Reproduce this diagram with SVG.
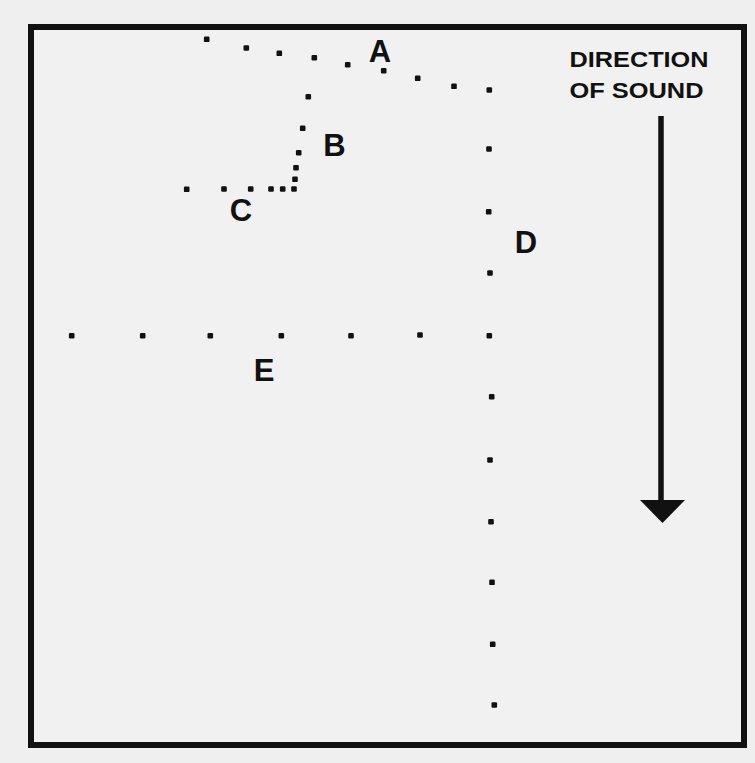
<svg xmlns="http://www.w3.org/2000/svg" width="755" height="763" viewBox="0 0 755 763">
<style>
.lbl{font-family:"Liberation Sans",Arial,sans-serif;font-weight:bold;font-size:31px;fill:#111;text-anchor:middle}
.cap{font-family:"Liberation Sans",Arial,sans-serif;font-weight:bold;font-size:22px;fill:#111}
.dot{fill:#111}
</style>
<defs>
<rect id="d" x="-2.8" y="-2.8" width="5.6" height="5.6" rx="1.2" class="dot"/>
</defs>
<rect width="755" height="763" fill="#efefef"/>
<rect x="31" y="27" width="713" height="718" fill="#f1f1f1" stroke="#111" stroke-width="6"/>
<g id="curveA">
<use href="#d" x="206.7" y="39.3"/><use href="#d" x="246.3" y="48"/><use href="#d" x="279.3" y="53.3"/><use href="#d" x="314.3" y="57.7"/><use href="#d" x="347.7" y="64.7"/><use href="#d" x="383.7" y="70.7"/><use href="#d" x="417.7" y="78.3"/><use href="#d" x="454" y="86.3"/><use href="#d" x="489.3" y="90"/>
<text class="lbl" x="380" y="62">A</text>
</g>
<g id="curveB">
<use href="#d" x="308.3" y="96.7"/><use href="#d" x="302.7" y="128.3"/><use href="#d" x="298.7" y="152.7"/><use href="#d" x="296" y="167.7"/><use href="#d" x="295" y="179.3"/><use href="#d" x="294" y="189"/>
<text class="lbl" x="334.5" y="156">B</text>
</g>
<g id="curveC">
<use href="#d" x="186.7" y="189.3"/><use href="#d" x="224" y="189"/><use href="#d" x="250.7" y="189"/><use href="#d" x="271" y="189"/><use href="#d" x="282.7" y="189"/>
<text class="lbl" x="241" y="221">C</text>
</g>
<g id="curveD">
<use href="#d" x="489" y="149"/><use href="#d" x="488.7" y="211.7"/><use href="#d" x="490" y="273"/><use href="#d" x="489.3" y="335.7"/><use href="#d" x="491.7" y="396.7"/><use href="#d" x="490" y="460"/><use href="#d" x="491" y="521.7"/><use href="#d" x="492" y="582.3"/><use href="#d" x="492.7" y="644.3"/><use href="#d" x="494.3" y="705"/>
<text class="lbl" x="526" y="252.5">D</text>
</g>
<g id="curveE">
<use href="#d" x="71.7" y="335.7"/><use href="#d" x="142.7" y="335.7"/><use href="#d" x="210.3" y="335.7"/><use href="#d" x="281.3" y="335.7"/><use href="#d" x="351" y="335.7"/><use href="#d" x="420" y="335"/>
<text class="lbl" x="264" y="381">E</text>
</g>
<g id="direction">
<text class="cap" x="569.5" y="67" textLength="139" lengthAdjust="spacingAndGlyphs">DIRECTION</text>
<text class="cap" x="569.5" y="97.5" textLength="134" lengthAdjust="spacingAndGlyphs">OF SOUND</text>
</g>
<g id="connectors">
<line x1="661" y1="116" x2="661" y2="502" stroke="#111" stroke-width="5.5"/>
<polygon points="640,500 685,500 662.5,523" fill="#111"/>
</g>
</svg>
